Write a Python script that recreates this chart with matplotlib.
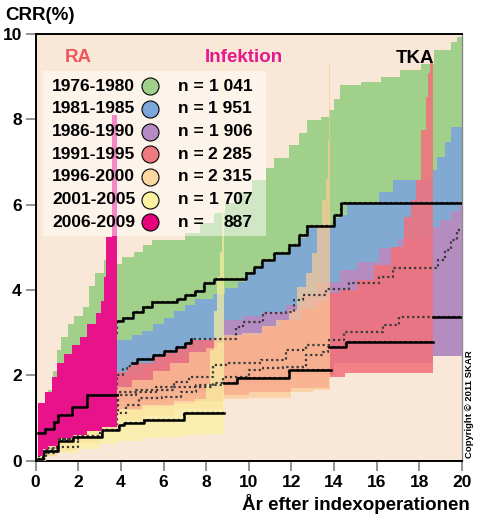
import numpy as np
import matplotlib
matplotlib.use("Agg")
from matplotlib import pyplot as plt
from matplotlib.patches import Rectangle

plt.rcParams["font.family"] = ["Liberation Sans", "DejaVu Sans"]
plt.rcParams["font.weight"] = "bold"

periods = ["1976-1980", "1981-1985", "1986-1990", "1991-1995", "1996-2000", "2001-2005", "2006-2009"]
n_values = ["1 041", "1 951", "1 906", "2 285", "2 315", "1 707", "887"]
band_colors = ["#A0D08A", "#80AAD2", "#B48CC0", "#F2707A", "#FCCB96", "#FAF0A0", "#E8128A"]
band_alpha = [1.0, 1.0, 1.0, 0.85, 0.7, 0.7, 1.0]
marker_colors = ["#9FD18A", "#7BA7DA", "#B68BC4", "#F07880", "#FDD7A0", "#FBF3A2", "#E5007E"]
follow_up_end = [20, 20, 20, 18.63, 13.82, 8.84, 3.82]

# 1976-1980
g_up_x = [0.12, 0.6, 0.8, 1.0, 1.2, 1.5, 1.8, 2.2, 2.5, 2.8, 3.2, 3.5, 3.82, 4.05, 4.6, 5.05, 5.46, 7.0, 7.7, 8.35, 8.9,
          9.5, 10.16, 10.8, 11.2, 11.9, 12.35, 12.75, 13.4, 13.77, 14.0, 14.3, 15.26, 16.2, 17.1, 18.1, 18.7, 19.5, 19.8]
g_up = [1.0, 1.65, 2.1, 2.6, 2.9, 3.2, 3.4, 3.6, 4.1, 4.4, 4.7, 4.85, 4.6, 4.77, 4.9, 5.05, 5.17, 5.33, 5.56, 5.8, 6.03,
        6.3, 6.58, 6.86, 7.09, 7.4, 7.68, 7.98, 8.06, 8.22, 8.47, 8.8, 8.88, 9.0, 9.16, 9.31, 9.62, 9.82, 9.94]
g_lo_x = [0.12, 1, 2, 3, 3.82, 6, 9, 12, 14, 16, 18.63]
g_lo = [0.3, 0.8, 1.5, 1.9, 2.3, 2.5, 2.9, 3.4, 3.9, 4.0, 4.0]
g_c_x = [0.12, 0.6, 1.1, 1.7, 2.4, 3.0, 3.82, 4.09, 4.56, 5.06, 5.46, 6.63, 7.03, 7.5, 7.9, 8.36, 9.85, 10.24, 10.63,
         11.18, 11.89, 12.36, 12.75, 14.0, 14.32]
g_c = [0.5, 1.0, 1.6, 2.1, 2.6, 2.95, 3.27, 3.35, 3.49, 3.61, 3.71, 3.79, 3.88, 3.98, 4.16, 4.26, 4.41, 4.55, 4.7,
       4.88, 5.06, 5.28, 5.5, 5.76, 6.03]

# 1981-1985
b_up_x = [0.12, 0.6, 1.2, 2.0, 3.0, 3.82, 4.5, 5.0, 5.5, 6.0, 6.5, 7.0, 7.5, 8.3, 8.9, 9.5, 9.85, 10.24, 10.63, 11.18,
          11.89, 12.36, 12.75, 14.0, 14.3, 14.6, 16.1, 16.75, 18.63, 18.85, 19.2, 19.5]
b_up = [0.9, 1.3, 1.8, 2.1, 2.5, 2.83, 2.95, 3.05, 3.2, 3.35, 3.5, 3.65, 3.8, 3.9, 4.05, 4.2, 4.36, 4.5, 4.65, 4.83,
        5.0, 5.22, 5.45, 5.7, 5.76, 6.02, 6.3, 6.58, 6.81, 7.12, 7.48, 7.83]
b_lo_x = [0.12, 1, 2, 3, 3.82, 6, 9, 12, 14, 16, 18.63]
b_lo = [0.2, 0.6, 1.1, 1.4, 1.6, 1.9, 2.2, 2.7, 3.0, 3.2, 3.6]
b_c_x = [0.12, 0.5, 1.0, 2.0, 3.0, 3.84, 4.1, 4.3, 4.52, 4.77, 5.5, 6.0, 6.6, 7.0, 7.3, 9.39, 9.71, 10.65, 11.75,
         12.14, 12.53, 13.63, 14.7, 16.1, 16.75, 18.87, 19.2, 19.5, 19.8]
b_c = [0.4, 0.6, 0.9, 1.3, 1.7, 2.0, 2.15, 2.22, 2.3, 2.38, 2.48, 2.57, 2.67, 2.76, 2.86, 3.14, 3.26, 3.45, 3.49,
       3.77, 3.88, 4.02, 4.16, 4.31, 4.51, 4.7, 4.94, 5.17, 5.4]

# 1986-1990
p_up_x = [0.12, 1, 2, 3, 3.82, 5, 6, 7, 8, 8.77, 9.71, 10.65, 11.75, 12.5, 13.2, 14.3, 15.1, 16.1, 17.0, 18.63, 19.0,
          19.5, 19.9]
p_up = [0.8, 1.2, 1.6, 1.85, 2.0, 2.25, 2.4, 2.55, 2.75, 3.3, 3.4, 3.49, 3.65, 3.9, 4.2, 4.47, 4.66, 4.98, 5.2, 5.48,
        5.65, 5.85, 6.0]
p_lo_x = [0.12, 1, 2, 3.82, 6, 9, 12, 14, 18.63]
p_lo = [0.1, 0.45, 0.75, 1.4, 1.6, 1.8, 2.0, 2.3, 2.46]
p_c_x = [0.12, 0.5, 1.0, 1.8, 2.5, 3.85, 5.63, 6.5, 7.2, 8.3, 8.92, 10.57, 11.75, 12.69, 13.79, 14.48, 16.28, 17.06]
p_c = [0.15, 0.3, 0.5, 0.8, 1.1, 1.62, 1.72, 1.85, 1.97, 2.24, 2.3, 2.36, 2.59, 2.71, 2.84, 3.02, 3.18, 3.37]

# 1991-1995
r_up_x = [0.12, 1, 2, 3, 3.84, 4.3, 4.52, 5.5, 6.0, 6.6, 7.0, 7.34, 8.3, 8.77, 9.71, 10.65, 11.5, 12.5, 13.2, 13.7,
          14.3, 15.1, 15.9, 16.7, 17.3, 17.6, 17.85, 18.08, 18.32, 18.43, 18.52]
r_up = [0.7, 1.1, 1.5, 1.85, 2.09, 2.2, 2.3, 2.42, 2.52, 2.62, 2.72, 2.82, 2.88, 2.9, 2.95, 3.14, 3.3, 3.55, 3.75,
        3.92, 4.0, 4.23, 4.59, 5.02, 5.72, 6.1, 6.58, 7.75, 8.53, 9.08, 9.35]
r_lo_x = [0.12, 0.35, 0.5, 0.9, 1.3, 1.75, 2.4, 3.0, 3.84, 5, 6.5, 8.8, 10, 12, 13.77, 14.5]
r_lo = [0.12, 0.3, 0.38, 0.5, 0.58, 0.66, 0.78, 1.0, 1.2, 1.3, 1.4, 1.55, 1.6, 1.7, 1.97, 2.05]
r_c_x = [0.12, 0.5, 1.0, 2.0, 3.0, 3.83, 4.69, 6.5, 8.3, 8.77, 10.02, 10.65, 11.59, 12.69, 13.47, 13.71, 14.56]
r_c = [0.1, 0.28, 0.5, 0.85, 1.2, 1.54, 1.66, 1.72, 1.81, 1.97, 2.13, 2.17, 2.2, 2.48, 2.55, 2.66, 2.78]

# 1996-2000
o_up_x = [0.12, 0.5, 1, 2, 3, 3.84, 4.5, 5.5, 6.3, 7.2, 8.0, 8.5, 8.8, 9.7, 10.6, 11.3, 11.89, 12.28, 12.67, 12.99,
          13.22, 13.46, 13.61, 13.72, 13.77]
o_up = [0.5, 0.7, 0.9, 1.2, 1.5, 1.73, 1.9, 2.1, 2.3, 2.55, 2.65, 2.75, 2.95, 3.0, 3.15, 3.3, 3.53, 4.08, 4.39, 4.86,
        5.48, 6.11, 6.6, 7.52, 9.31]
o_lo_x = [0.12, 0.5, 1, 2, 3, 3.84, 5, 6.5, 8.8, 10, 12, 13.0]
o_lo = [0.0, 0.12, 0.22, 0.42, 0.7, 0.95, 1.05, 1.2, 1.45, 1.48, 1.6, 1.66]
o_c_x = [0.12, 0.5, 1.0, 2.0, 3.0, 3.83, 4.22, 4.85, 5.94, 6.8, 7.51, 8.77, 9.47, 11.9]
o_c = [0.05, 0.18, 0.33, 0.58, 0.85, 1.11, 1.31, 1.46, 1.5, 1.62, 1.77, 1.81, 1.93, 2.13]

# 2001-2005
y_up_x = [0.12, 0.5, 1.0, 1.5, 2.5, 3.84, 5.0, 6.5, 7.5, 8.0, 8.2, 8.35, 8.5, 8.65, 8.75, 8.8]
y_up = [0.4, 0.55, 0.7, 0.85, 1.0, 1.19, 1.27, 1.35, 1.45, 1.8, 2.6, 3.5, 4.3, 4.9, 6.0, 9.8]
y_lo_x = [0.12, 0.5, 1, 2, 3, 3.84, 5, 6, 7, 8]
y_lo = [0.0, 0.1, 0.18, 0.28, 0.38, 0.45, 0.52, 0.56, 0.6, 0.63]
y_c_x = [0.12, 0.36, 1.07, 1.77, 3.1, 3.89, 4.14, 5.08, 6.97]
y_c = [0.05, 0.22, 0.46, 0.55, 0.72, 0.84, 0.88, 0.95, 1.11]

# 2006-2009
m_up_x = [0.12, 0.45, 0.75, 1.0, 1.35, 1.7, 2.1, 2.4, 2.85, 3.05, 3.2, 3.28, 3.6]
m_up = [1.35, 1.6, 1.95, 2.28, 2.5, 2.7, 2.9, 3.2, 3.45, 3.75, 4.3, 5.25, 8.1]
m_lo_x = [0.12, 0.36, 0.6, 1.07, 1.77, 2.4, 3.1]
m_lo = [0.1, 0.28, 0.35, 0.52, 0.6, 0.7, 0.78]
m_c_x = [0.12, 0.45, 0.85, 1.05, 1.7, 2.4]
m_c = [0.65, 0.75, 0.9, 1.07, 1.25, 1.53]

bands = [
    (g_up_x, g_up, g_lo_x, g_lo, g_c_x, g_c),
    (b_up_x, b_up, b_lo_x, b_lo, b_c_x, b_c),
    (p_up_x, p_up, p_lo_x, p_lo, p_c_x, p_c),
    (r_up_x, r_up, r_lo_x, r_lo, r_c_x, r_c),
    (o_up_x, o_up, o_lo_x, o_lo, o_c_x, o_c),
    (y_up_x, y_up, y_lo_x, y_lo, y_c_x, y_c),
    (m_up_x, m_up, m_lo_x, m_lo, m_c_x, m_c),
]
# part of each curve that is not covered by a later band (drawn solid, rest dotted)
solid_spans = [(3.82, 20), (4.52, 7.3), (18.63, 20), (13.77, 18.63), (8.84, 13.86), (0, 8.84), (0, 3.82)]
line_ends = [20, 20, 20, 18.63, 13.86, 8.84, 3.82]


def step_values(xs, ys, grid):
    idx = np.clip(np.searchsorted(xs, grid, side="right") - 1, 0, len(ys) - 1)
    return np.asarray(ys)[idx]


fig = plt.figure(figsize=(4.79, 5.17), dpi=100)
ax = fig.add_axes([0.0745, 0.109, 0.8895, 0.825])
ax.set_facecolor("#F9E7D8")

for i, (ux, uy, lx, ly, cx, cy) in enumerate(bands):
    end = follow_up_end[i]
    grid = np.unique(np.concatenate([ux, lx, [end]]))
    grid = grid[grid <= end]
    z = 12 if i == 6 else 1 + i
    ax.fill_between(grid, step_values(lx, ly, grid), step_values(ux, uy, grid), step="post",
                    color=band_colors[i], alpha=band_alpha[i], linewidth=0, zorder=z)

for i, (ux, uy, lx, ly, cx, cy) in enumerate(bands):
    end = line_ends[i]
    xs = list(cx) + [end]
    ys = list(cy) + [cy[-1]]
    z_line = 13 if i == 6 else 10
    ax.step(xs, ys, where="post", color="#3a3a3a", linestyle=(0, (1, 1.3)), linewidth=1.6, zorder=z_line)
    a, b = solid_spans[i]
    seg = np.array([max(a, cx[0])] + [x for x in cx if a < x < b] + [min(b, end)])
    ax.step(seg, step_values(cx, cy, seg), where="post", color="black", linewidth=1.8, zorder=z_line + 0.5)

# legend block
ax.add_patch(Rectangle((0.017, 0.527), 0.5225, 0.386, transform=ax.transAxes, facecolor="white",
                       alpha=0.5, linewidth=0, zorder=14))
for i, label in enumerate(periods):
    yy = 0.878 - i * 0.0532
    ax.text(0.0385, yy, label, transform=ax.transAxes, fontsize=12.5, fontweight="bold",
            va="center", ha="left", zorder=15)
    ax.scatter([0.269], [yy], s=150, color=marker_colors[i], edgecolor="black", linewidth=0.8,
               transform=ax.transAxes, zorder=15, clip_on=False)
    ax.text(0.335, yy, "n =", transform=ax.transAxes, fontsize=12.5, fontweight="bold",
            va="center", ha="left", zorder=15)
    ax.text(0.508, yy, n_values[i], transform=ax.transAxes, fontsize=12.5, fontweight="bold",
            va="center", ha="right", zorder=15)

ax.text(0.0995, 0.946, "RA", transform=ax.transAxes, color="#F2545B", fontsize=13.5,
        fontweight="bold", ha="center", va="center", zorder=15)
ax.text(0.488, 0.946, "Infektion", transform=ax.transAxes, color="#E5198C", fontsize=13.5,
        fontweight="bold", ha="center", va="center", zorder=15)
ax.text(0.89, 0.944, "TKA", transform=ax.transAxes, color="black", fontsize=13.5,
        fontweight="bold", ha="center", va="center", zorder=15)

ax.set_xlim(0, 20)
ax.set_ylim(0, 10)
ax.set_xticks(np.arange(0, 21, 2))
ax.set_yticks(np.arange(0, 11, 2))
ax.tick_params(axis="both", direction="out", length=7, width=1.2, color="#808080",
               labelsize=12.5, pad=3)
for lab in ax.get_xticklabels() + ax.get_yticklabels():
    lab.set_fontweight("bold")
for side in ["left", "bottom", "top"]:
    ax.spines[side].set_color("black")
    ax.spines[side].set_linewidth(1.4)
ax.spines["right"].set_color("#8a8a8a")
ax.spines["right"].set_linewidth(1.0)

fig.text(5 / 479, 1 - 15 / 517, "CRR(%)", fontsize=13.5, fontweight="bold", ha="left", va="center")
fig.text(470 / 479, 1 - 510 / 517, "År efter indexoperationen", fontsize=13.5, fontweight="bold",
         ha="right", va="baseline")
fig.text(0.981, 0.219, "Copyright © 2011 SKAR", fontsize=6.8, fontweight="bold", rotation=90,
         ha="center", va="center")

fig.savefig("out.png", dpi=100)
